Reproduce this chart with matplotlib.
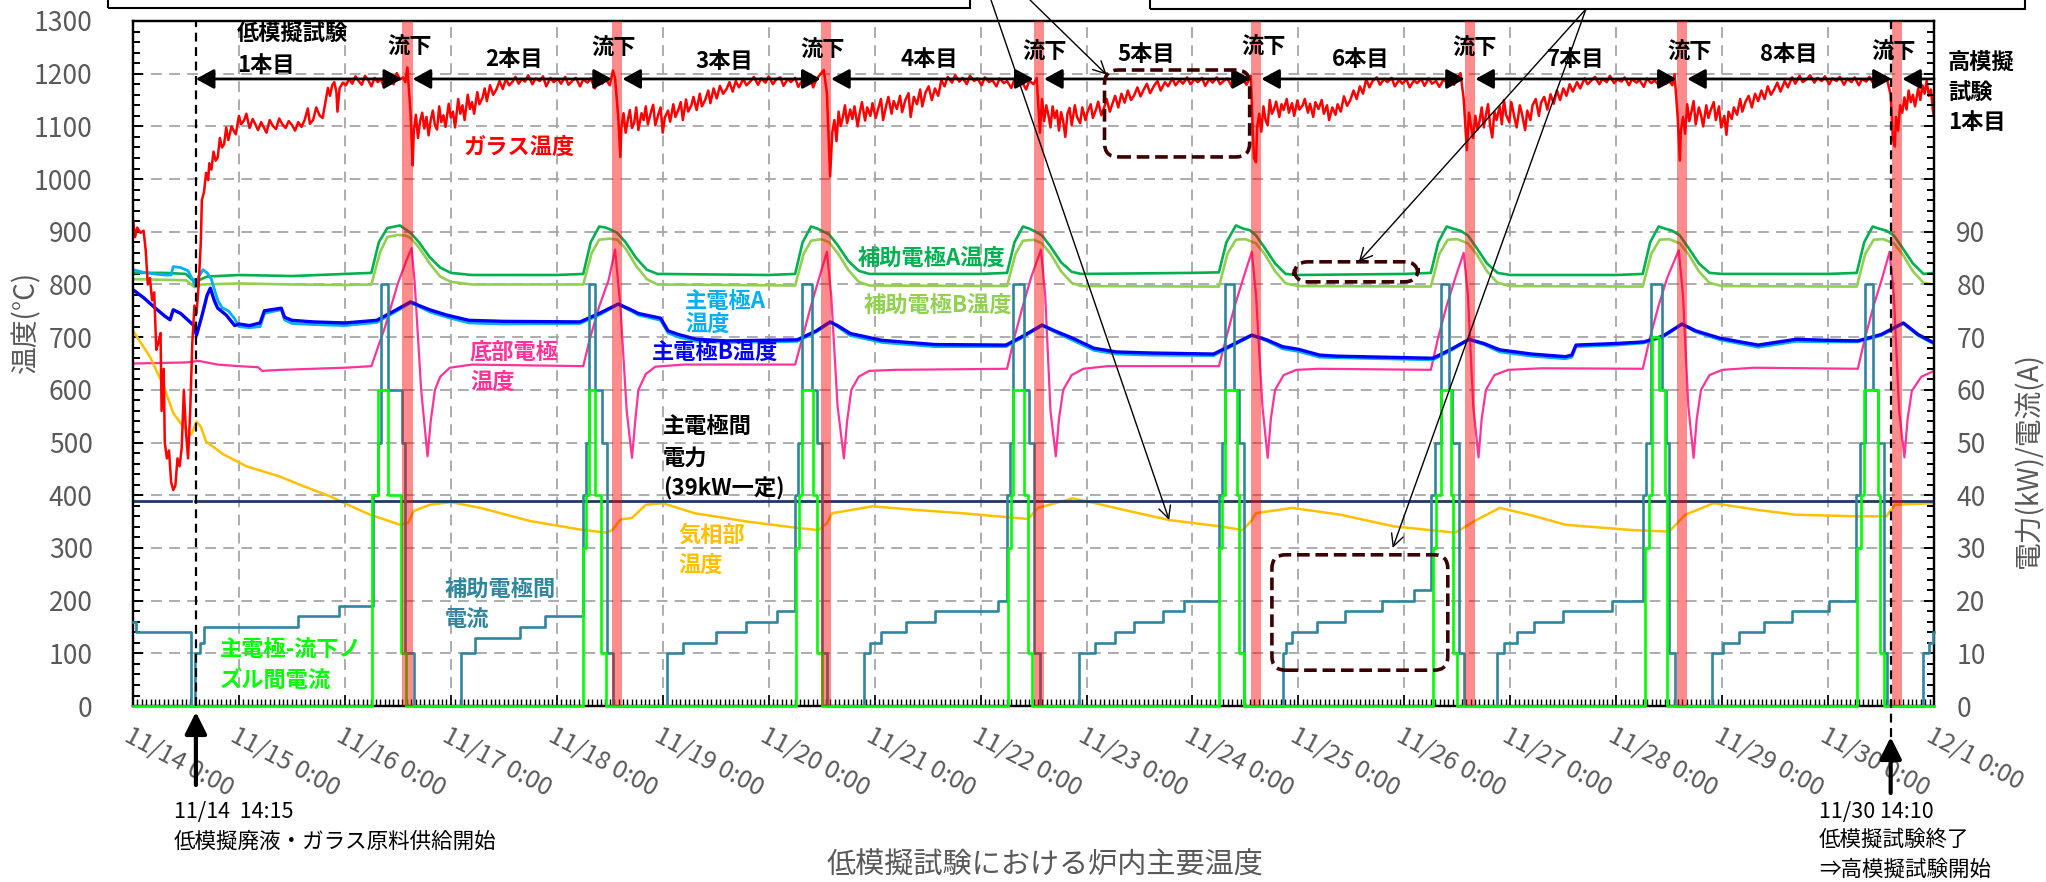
import numpy as np
import matplotlib
matplotlib.use('Agg')
import matplotlib.pyplot as plt
from matplotlib.ticker import MultipleLocator
from matplotlib.patches import FancyBboxPatch, Rectangle
from matplotlib import transforms

plt.rcParams['font.family'] = ['Noto Sans CJK JP', 'DejaVu Sans']

# time is in days from 11/14 0:00
DAY_LABELS = ['11/14 0:00', '11/15 0:00', '11/16 0:00', '11/17 0:00', '11/18 0:00',
              '11/19 0:00', '11/20 0:00', '11/21 0:00', '11/22 0:00', '11/23 0:00',
              '11/24 0:00', '11/25 0:00', '11/26 0:00', '11/27 0:00', '11/28 0:00',
              '11/29 0:00', '11/30 0:00', '12/1 0:00']

FEED_START = 14.25 / 24            # 11/14 14:15
FEED_END = 16 + (14 + 10 / 60) / 24  # 11/30 14:10
POURS = [2.59, 4.57, 6.54, 8.55, 10.60, 12.62, 14.62, 16.65]
BATCHES = ['2本目', '3本目', '4本目', '5本目', '6本目', '7本目', '8本目']

# ガラス温度 (°C)
glass = [
    (0.00, 922), (0.02, 890), (0.04, 908), (0.07, 898), (0.10, 902), (0.12, 865),
    (0.14, 800), (0.16, 812), (0.18, 770), (0.20, 785), (0.22, 676), (0.24, 690),
    (0.26, 708), (0.27, 560), (0.29, 640), (0.30, 500), (0.32, 470), (0.34, 485),
    (0.36, 425), (0.38, 410), (0.40, 418), (0.42, 470), (0.44, 455), (0.46, 490),
    (0.48, 600), (0.50, 520), (0.52, 470), (0.54, 560), (0.56, 690), (0.58, 760),
    (0.60, 745), (0.62, 800), (0.64, 880), (0.65, 960), (0.67, 975),
    # 1本目
    (0.69, 1012), (0.71, 998), (0.72, 1030), (0.74, 1018), (0.76, 1052), (0.78, 1035),
    (0.80, 1041), (0.82, 1078), (0.84, 1060), (0.86, 1066), (0.88, 1098), (0.90, 1074),
    (0.93, 1100), (0.95, 1092), (0.97, 1085), (1.00, 1120), (1.02, 1104), (1.05, 1112),
    (1.07, 1124), (1.10, 1097), (1.13, 1114), (1.15, 1106), (1.18, 1093), (1.21, 1108),
    (1.23, 1100), (1.26, 1088), (1.29, 1112), (1.32, 1101), (1.35, 1095), (1.38, 1115),
    (1.41, 1104), (1.44, 1097), (1.47, 1110), (1.50, 1103), (1.53, 1092), (1.56, 1108),
    (1.59, 1099), (1.62, 1112), (1.65, 1134), (1.67, 1105), (1.70, 1112), (1.73, 1136),
    (1.76, 1121), (1.79, 1116), (1.82, 1150), (1.84, 1173), (1.86, 1158), (1.88, 1178),
    (1.90, 1184), (1.92, 1165), (1.93, 1128), (1.95, 1172), (1.98, 1183), (2.01, 1178),
    (2.04, 1190), (2.07, 1181), (2.10, 1195), (2.13, 1186), (2.16, 1179), (2.19, 1196),
    (2.22, 1188), (2.25, 1176), (2.28, 1192), (2.31, 1184), (2.34, 1190), (2.37, 1174),
    (2.40, 1197), (2.43, 1185), (2.46, 1180), (2.49, 1201), (2.52, 1189), (2.55, 1193),
    (2.57, 1184), (2.59, 1212),
    # 2本目
    (2.62, 1125), (2.64, 1026), (2.65, 1090), (2.67, 1122), (2.69, 1078), (2.71, 1110),
    (2.73, 1126), (2.75, 1096), (2.77, 1118), (2.79, 1083), (2.81, 1112), (2.83, 1130),
    (2.85, 1102), (2.87, 1094), (2.89, 1138), (2.91, 1108), (2.93, 1121), (2.95, 1099),
    (2.98, 1143), (3.00, 1117), (3.02, 1128), (3.04, 1098), (3.07, 1152), (3.09, 1124),
    (3.11, 1140), (3.13, 1112), (3.16, 1160), (3.18, 1133), (3.20, 1146), (3.22, 1124),
    (3.25, 1165), (3.27, 1142), (3.30, 1155), (3.32, 1172), (3.34, 1148), (3.37, 1178),
    (3.40, 1160), (3.43, 1170), (3.46, 1186), (3.49, 1171), (3.52, 1190), (3.55, 1178),
    (3.58, 1184), (3.61, 1194), (3.64, 1181), (3.67, 1190), (3.70, 1185), (3.73, 1197),
    (3.77, 1180), (3.80, 1191), (3.84, 1186), (3.87, 1195), (3.90, 1176), (3.94, 1192),
    (3.97, 1184), (4.01, 1190), (4.04, 1181), (4.08, 1194), (4.11, 1179), (4.15, 1187),
    (4.18, 1192), (4.22, 1176), (4.25, 1189), (4.29, 1183), (4.32, 1191), (4.36, 1172),
    (4.39, 1187), (4.43, 1181), (4.46, 1190), (4.50, 1178), (4.53, 1206), (4.55, 1192),
    # 3本目
    (4.58, 1118), (4.60, 1042), (4.61, 1098), (4.63, 1125), (4.65, 1088), (4.67, 1112),
    (4.69, 1131), (4.71, 1097), (4.73, 1106), (4.75, 1136), (4.77, 1093), (4.80, 1125),
    (4.82, 1112), (4.84, 1138), (4.86, 1104), (4.89, 1128), (4.91, 1141), (4.93, 1102),
    (4.96, 1124), (4.98, 1136), (5.00, 1088), (5.02, 1117), (5.05, 1130), (5.07, 1109),
    (5.10, 1142), (5.12, 1118), (5.15, 1133), (5.17, 1146), (5.19, 1112), (5.22, 1151),
    (5.24, 1128), (5.27, 1140), (5.29, 1156), (5.32, 1131), (5.35, 1162), (5.37, 1138),
    (5.40, 1150), (5.43, 1168), (5.45, 1144), (5.48, 1172), (5.51, 1153), (5.54, 1177),
    (5.57, 1162), (5.60, 1170), (5.63, 1184), (5.66, 1166), (5.69, 1186), (5.72, 1174),
    (5.76, 1190), (5.79, 1178), (5.83, 1186), (5.86, 1194), (5.90, 1179), (5.93, 1191),
    (5.97, 1183), (6.00, 1195), (6.04, 1180), (6.07, 1189), (6.11, 1193), (6.14, 1177),
    (6.18, 1190), (6.21, 1184), (6.25, 1192), (6.28, 1175), (6.32, 1188), (6.35, 1181),
    (6.39, 1193), (6.42, 1174), (6.45, 1189), (6.48, 1197), (6.52, 1207),
    # 4本目
    (6.55, 1162), (6.58, 1005), (6.60, 1088), (6.62, 1112), (6.64, 1072), (6.66, 1128),
    (6.68, 1101), (6.70, 1117), (6.72, 1140), (6.74, 1106), (6.77, 1132), (6.79, 1114),
    (6.81, 1138), (6.84, 1100), (6.86, 1126), (6.88, 1146), (6.91, 1111), (6.93, 1136),
    (6.96, 1120), (6.98, 1144), (7.01, 1116), (7.03, 1131), (7.06, 1152), (7.08, 1112),
    (7.11, 1140), (7.13, 1156), (7.16, 1124), (7.18, 1148), (7.21, 1133), (7.24, 1158),
    (7.26, 1127), (7.29, 1150), (7.32, 1163), (7.34, 1118), (7.37, 1156), (7.40, 1142),
    (7.43, 1170), (7.45, 1138), (7.48, 1164), (7.51, 1176), (7.54, 1150), (7.57, 1172),
    (7.60, 1158), (7.63, 1188), (7.66, 1176), (7.69, 1194), (7.73, 1183), (7.76, 1197),
    (7.80, 1185), (7.83, 1192), (7.87, 1180), (7.90, 1196), (7.94, 1186), (7.97, 1191),
    (8.01, 1178), (8.04, 1193), (8.08, 1184), (8.11, 1188), (8.15, 1176), (8.18, 1191),
    (8.22, 1182), (8.25, 1186), (8.29, 1173), (8.32, 1189), (8.36, 1180), (8.39, 1185),
    (8.43, 1170), (8.46, 1187), (8.50, 1180), (8.53, 1192),
    # 5本目
    (8.56, 1088), (8.58, 1152), (8.60, 1110), (8.62, 1140), (8.64, 1122), (8.66, 1098),
    (8.68, 1138), (8.70, 1116), (8.72, 1130), (8.74, 1092), (8.76, 1127), (8.78, 1110),
    (8.80, 1080), (8.82, 1124), (8.84, 1135), (8.86, 1102), (8.89, 1140), (8.91, 1118),
    (8.94, 1106), (8.96, 1136), (8.99, 1112), (9.01, 1128), (9.04, 1142), (9.06, 1116),
    (9.09, 1132), (9.11, 1147), (9.14, 1121), (9.17, 1138), (9.19, 1152), (9.22, 1128),
    (9.25, 1146), (9.27, 1158), (9.30, 1136), (9.33, 1162), (9.36, 1145), (9.39, 1168),
    (9.42, 1150), (9.45, 1159), (9.48, 1174), (9.51, 1157), (9.54, 1170), (9.57, 1181),
    (9.60, 1163), (9.64, 1178), (9.67, 1186), (9.70, 1168), (9.74, 1184), (9.77, 1176),
    (9.81, 1191), (9.84, 1178), (9.88, 1188), (9.91, 1181), (9.95, 1193), (9.98, 1180),
    (10.02, 1189), (10.05, 1184), (10.09, 1192), (10.12, 1177), (10.16, 1190), (10.19, 1183),
    (10.23, 1193), (10.26, 1180), (10.30, 1187), (10.33, 1191), (10.37, 1176), (10.40, 1188),
    (10.44, 1182), (10.47, 1191), (10.51, 1179), (10.55, 1196),
    # 6本目
    (10.58, 1040), (10.60, 1032), (10.61, 1098), (10.63, 1124), (10.65, 1090), (10.67, 1138),
    (10.69, 1112), (10.71, 1102), (10.73, 1150), (10.75, 1124), (10.77, 1133), (10.79, 1147),
    (10.82, 1118), (10.84, 1142), (10.86, 1131), (10.89, 1152), (10.91, 1126), (10.94, 1144),
    (10.96, 1120), (10.99, 1149), (11.01, 1132), (11.04, 1140), (11.06, 1152), (11.09, 1126),
    (11.11, 1143), (11.14, 1118), (11.16, 1146), (11.19, 1133), (11.22, 1150), (11.24, 1124),
    (11.27, 1140), (11.29, 1112), (11.32, 1136), (11.35, 1122), (11.37, 1142), (11.40, 1128),
    (11.43, 1157), (11.46, 1139), (11.49, 1150), (11.52, 1168), (11.55, 1152), (11.58, 1176),
    (11.61, 1162), (11.64, 1190), (11.67, 1174), (11.70, 1186), (11.74, 1193), (11.77, 1179),
    (11.81, 1190), (11.84, 1184), (11.88, 1192), (11.91, 1176), (11.95, 1188), (11.98, 1181),
    (12.02, 1189), (12.05, 1174), (12.09, 1187), (12.12, 1182), (12.16, 1190), (12.19, 1177),
    (12.23, 1191), (12.26, 1181), (12.30, 1186), (12.33, 1175), (12.37, 1189), (12.40, 1183),
    (12.44, 1191), (12.47, 1179), (12.50, 1192), (12.53, 1201), (12.56, 1152),
    # 7本目
    (12.59, 1055), (12.61, 1126), (12.63, 1100), (12.65, 1078), (12.67, 1120), (12.69, 1094),
    (12.71, 1110), (12.73, 1136), (12.75, 1098), (12.77, 1122), (12.79, 1142), (12.81, 1101),
    (12.83, 1079), (12.85, 1128), (12.87, 1112), (12.90, 1138), (12.92, 1104), (12.94, 1150),
    (12.96, 1122), (12.99, 1108), (13.01, 1146), (13.04, 1116), (13.06, 1098), (13.09, 1140),
    (13.11, 1124), (13.14, 1093), (13.16, 1130), (13.19, 1112), (13.21, 1140), (13.24, 1152),
    (13.27, 1120), (13.29, 1145), (13.32, 1156), (13.35, 1132), (13.38, 1161), (13.41, 1143),
    (13.44, 1168), (13.47, 1150), (13.50, 1172), (13.53, 1158), (13.56, 1180), (13.59, 1166),
    (13.63, 1184), (13.66, 1172), (13.70, 1191), (13.73, 1180), (13.77, 1188), (13.80, 1194),
    (13.84, 1180), (13.87, 1190), (13.91, 1184), (13.94, 1196), (13.98, 1182), (14.01, 1189),
    (14.05, 1185), (14.08, 1193), (14.12, 1178), (14.15, 1190), (14.19, 1183), (14.22, 1188),
    (14.26, 1175), (14.29, 1191), (14.33, 1182), (14.36, 1187), (14.40, 1179), (14.43, 1193),
    (14.47, 1181), (14.50, 1186), (14.53, 1178), (14.55, 1199),
    # 8本目
    (14.58, 1118), (14.60, 1035), (14.61, 1092), (14.63, 1118), (14.65, 1086), (14.67, 1142),
    (14.69, 1110), (14.71, 1128), (14.73, 1148), (14.75, 1104), (14.78, 1136), (14.80, 1122),
    (14.82, 1100), (14.85, 1140), (14.87, 1116), (14.89, 1130), (14.92, 1146), (14.94, 1112),
    (14.97, 1138), (14.99, 1098), (15.02, 1120), (15.04, 1084), (15.06, 1128), (15.09, 1114),
    (15.11, 1136), (15.14, 1122), (15.17, 1152), (15.19, 1128), (15.22, 1147), (15.25, 1158),
    (15.28, 1136), (15.31, 1162), (15.34, 1148), (15.37, 1168), (15.40, 1152), (15.43, 1176),
    (15.46, 1160), (15.49, 1170), (15.52, 1183), (15.55, 1166), (15.59, 1186), (15.62, 1174),
    (15.66, 1193), (15.69, 1181), (15.73, 1196), (15.76, 1184), (15.80, 1190), (15.83, 1197),
    (15.87, 1183), (15.90, 1192), (15.94, 1186), (15.97, 1195), (16.01, 1180), (16.04, 1191),
    (16.08, 1186), (16.11, 1194), (16.15, 1179), (16.18, 1190), (16.22, 1184), (16.25, 1193),
    (16.29, 1178), (16.32, 1190), (16.36, 1185), (16.39, 1194), (16.43, 1180), (16.46, 1189),
    (16.50, 1183), (16.53, 1196), (16.56, 1186),
    # 高模擬 1本目
    (16.59, 1160), (16.61, 1080), (16.63, 1062), (16.64, 1118), (16.66, 1092), (16.68, 1140),
    (16.70, 1126), (16.72, 1155), (16.74, 1132), (16.76, 1168), (16.78, 1146), (16.80, 1160),
    (16.82, 1138), (16.85, 1172), (16.87, 1150), (16.89, 1178), (16.91, 1162), (16.93, 1186),
    (16.95, 1158), (16.97, 1170), (16.99, 1128), (17.00, 1118),
]

# 補助電極A温度 / 補助電極B温度 (°C)
aux_a = [
    (0.00, 822), (0.30, 822), (0.50, 820), (0.55, 810), (0.62, 808), (0.70, 815), (1.00, 818),
    (1.50, 816), (2.00, 820), (2.25, 822), (2.32, 880), (2.40, 907), (2.47, 910), (2.52, 912),
    (2.57, 905), (2.62, 898), (2.70, 880), (2.80, 852), (2.90, 832), (3.00, 822), (3.20, 818),
    (4.00, 818), (4.25, 820), (4.32, 880), (4.40, 910), (4.46, 908), (4.52, 903), (4.57, 898),
    (4.65, 880), (4.75, 850), (4.85, 828), (4.95, 820), (6.00, 818), (6.25, 820), (6.32, 880),
    (6.40, 910), (6.46, 906), (6.52, 900), (6.57, 895), (6.65, 875), (6.75, 845), (6.85, 826),
    (6.95, 820), (8.00, 820), (8.25, 822), (8.32, 880), (8.40, 910), (8.46, 906), (8.52, 900),
    (8.58, 893), (8.66, 872), (8.76, 842), (8.86, 824), (8.95, 820), (10.00, 822), (10.25, 823),
    (10.32, 880), (10.41, 912), (10.48, 906), (10.54, 903), (10.60, 893), (10.68, 870),
    (10.78, 840), (10.88, 820), (11.00, 818), (12.00, 820), (12.25, 822), (12.32, 880),
    (12.40, 910), (12.46, 906), (12.53, 902), (12.60, 893), (12.68, 870), (12.78, 840),
    (12.88, 822), (13.00, 818), (14.00, 818), (14.25, 820), (14.32, 880), (14.40, 910),
    (14.46, 906), (14.53, 902), (14.60, 893), (14.68, 870), (14.78, 840), (14.88, 822),
    (15.00, 820), (16.00, 820), (16.27, 822), (16.34, 880), (16.42, 910), (16.48, 906),
    (16.55, 902), (16.62, 893), (16.70, 870), (16.80, 840), (16.90, 820), (17.00, 822),
]
aux_b = [
    (0.00, 810), (0.50, 808), (0.58, 795), (0.65, 800), (1.00, 802), (1.50, 800), (2.00, 799),
    (2.25, 800), (2.33, 860), (2.40, 890), (2.50, 894), (2.57, 893), (2.62, 888), (2.70, 870),
    (2.80, 840), (2.90, 815), (3.00, 805), (3.20, 800), (4.25, 800), (4.33, 860), (4.40, 885),
    (4.50, 887), (4.57, 885), (4.65, 868), (4.75, 835), (4.85, 810), (4.95, 800), (6.25, 798),
    (6.33, 858), (6.40, 883), (6.50, 886), (6.57, 880), (6.65, 860), (6.75, 828), (6.85, 805),
    (6.95, 798), (8.25, 797), (8.33, 858), (8.40, 883), (8.50, 885), (8.58, 878), (8.66, 858),
    (8.76, 825), (8.86, 803), (8.95, 797), (10.25, 796), (10.33, 858), (10.41, 885),
    (10.50, 886), (10.60, 878), (10.68, 858), (10.78, 825), (10.88, 802), (11.00, 797),
    (12.25, 796), (12.33, 858), (12.41, 885), (12.50, 886), (12.60, 878), (12.68, 858),
    (12.78, 825), (12.88, 803), (13.00, 797), (14.25, 796), (14.33, 858), (14.41, 885),
    (14.50, 886), (14.60, 878), (14.68, 858), (14.78, 825), (14.88, 803), (15.00, 797),
    (16.27, 796), (16.35, 858), (16.43, 885), (16.52, 886), (16.62, 878), (16.70, 858),
    (16.80, 825), (16.90, 803), (17.00, 800),
]

# 主電極A温度 / 主電極B温度 (°C)
main_a = [
    (0.00, 828), (0.10, 823), (0.20, 820), (0.30, 818), (0.36, 818), (0.38, 834), (0.45, 832),
    (0.52, 826), (0.56, 810), (0.59, 796), (0.62, 815), (0.66, 828), (0.70, 822), (0.74, 810),
    (0.80, 770), (0.84, 756), (0.90, 750), (0.96, 735), (1.00, 720), (1.10, 718), (1.20, 720),
    (1.24, 745), (1.30, 748), (1.40, 752), (1.43, 733), (1.50, 726), (1.70, 724), (2.00, 722),
    (2.30, 728), (2.45, 745), (2.62, 765), (2.70, 758), (2.80, 748), (2.96, 738), (3.17, 727),
    (3.50, 725), (4.22, 726), (4.40, 742), (4.58, 762), (4.70, 750), (4.77, 742), (4.98, 732),
    (5.05, 708), (5.15, 700), (5.32, 692), (5.60, 690), (6.27, 692), (6.45, 710), (6.58, 728),
    (6.65, 720), (6.77, 703), (7.07, 690), (7.57, 682), (8.24, 682), (8.40, 700), (8.58, 722),
    (8.70, 710), (8.87, 694), (9.07, 675), (9.28, 668), (9.60, 666), (10.20, 665), (10.40, 686),
    (10.56, 703), (10.70, 693), (10.85, 678), (11.00, 673), (11.20, 662), (11.36, 661),
    (12.27, 657), (12.45, 676), (12.61, 695), (12.75, 686), (12.90, 672), (13.20, 664),
    (13.52, 659), (13.58, 662), (13.62, 682), (14.00, 685), (14.26, 689), (14.44, 700),
    (14.62, 724), (14.75, 710), (14.98, 695), (15.34, 681), (15.50, 686), (15.70, 692),
    (16.00, 691), (16.28, 691), (16.50, 703), (16.71, 726), (16.85, 703), (17.00, 687),
]
main_b = [
    (0.00, 790), (0.10, 775), (0.20, 757), (0.30, 740), (0.35, 733), (0.38, 752), (0.45, 745),
    (0.57, 723), (0.60, 704), (0.65, 740), (0.70, 780), (0.73, 793), (0.77, 768), (0.80, 755),
    (0.88, 742), (0.96, 722), (1.00, 725), (1.10, 722), (1.20, 727), (1.24, 750), (1.30, 752),
    (1.40, 755), (1.43, 738), (1.50, 732), (1.70, 729), (2.00, 727), (2.30, 732), (2.45, 748),
    (2.62, 767), (2.70, 760), (2.80, 752), (2.96, 742), (3.17, 732), (3.50, 730), (4.22, 729),
    (4.40, 745), (4.58, 763), (4.70, 752), (4.77, 745), (4.98, 736), (5.05, 712), (5.15, 705),
    (5.32, 696), (5.60, 693), (6.27, 695), (6.45, 712), (6.58, 729), (6.65, 722), (6.77, 707),
    (7.07, 694), (7.57, 686), (8.24, 685), (8.40, 702), (8.58, 723), (8.70, 712), (8.87, 698),
    (9.07, 679), (9.28, 672), (9.60, 670), (10.20, 668), (10.40, 688), (10.56, 704),
    (10.70, 695), (10.85, 682), (11.00, 677), (11.20, 666), (11.36, 664), (12.27, 660),
    (12.45, 678), (12.61, 696), (12.75, 688), (12.90, 676), (13.20, 668), (13.52, 663),
    (13.58, 666), (13.62, 685), (14.00, 688), (14.26, 691), (14.44, 702), (14.62, 725),
    (14.75, 712), (14.98, 698), (15.34, 685), (15.50, 690), (15.70, 696), (16.00, 694),
    (16.28, 693), (16.50, 705), (16.71, 727), (16.85, 705), (17.00, 689),
]

# 底部電極温度 (°C)
bottom = [
    (0.00, 650), (0.50, 652), (0.62, 655), (0.80, 648), (1.00, 645), (1.18, 643), (1.22, 636),
    (1.40, 638), (2.00, 642), (2.25, 645), (2.38, 720), (2.50, 802), (2.58, 845), (2.63, 869),
    (2.66, 800), (2.72, 600), (2.78, 474), (2.81, 540), (2.85, 600), (2.90, 625), (2.99, 642),
    (3.20, 648), (4.25, 645), (4.31, 695), (4.40, 758), (4.49, 809), (4.55, 866), (4.60, 760),
    (4.66, 560), (4.71, 471), (4.74, 540), (4.77, 600), (4.84, 630), (4.93, 644), (5.20, 648),
    (6.25, 648), (6.32, 700), (6.40, 760), (6.48, 815), (6.55, 862), (6.59, 780), (6.65, 570),
    (6.71, 470), (6.74, 540), (6.78, 600), (6.85, 625), (6.95, 636), (7.20, 638), (8.25, 640),
    (8.32, 700), (8.40, 760), (8.48, 815), (8.57, 866), (8.61, 780), (8.66, 560), (8.71, 474),
    (8.74, 545), (8.78, 600), (8.86, 628), (8.97, 640), (9.20, 645), (10.25, 645), (10.32, 700),
    (10.40, 760), (10.48, 812), (10.56, 862), (10.60, 780), (10.66, 570), (10.71, 471),
    (10.74, 545), (10.78, 600), (10.86, 628), (10.98, 638), (11.20, 640), (12.25, 638),
    (12.32, 700), (12.40, 760), (12.48, 812), (12.56, 860), (12.60, 780), (12.65, 570),
    (12.70, 472), (12.73, 545), (12.77, 600), (12.85, 628), (12.98, 638), (13.30, 641),
    (14.25, 640), (14.32, 700), (14.40, 760), (14.48, 812), (14.59, 865), (14.63, 780),
    (14.68, 570), (14.73, 471), (14.76, 545), (14.80, 600), (14.88, 628), (15.00, 638),
    (15.30, 642), (16.28, 640), (16.35, 700), (16.43, 760), (16.51, 812), (16.58, 862),
    (16.62, 780), (16.67, 560), (16.72, 472), (16.75, 545), (16.79, 598), (16.88, 625),
    (17.00, 636),
]

# 気相部温度 (°C)
gas = [
    (0.00, 712), (0.16, 663), (0.29, 607), (0.38, 556), (0.47, 531), (0.55, 515), (0.60, 540),
    (0.64, 530), (0.69, 502), (0.85, 478), (1.07, 455), (1.38, 436), (1.60, 418), (1.86, 398),
    (2.05, 380), (2.24, 363), (2.52, 344), (2.60, 348), (2.65, 370), (2.80, 382), (3.00, 387),
    (3.28, 376), (3.75, 351), (4.22, 335), (4.47, 329), (4.53, 335), (4.60, 354), (4.71, 357),
    (4.84, 382), (5.00, 385), (5.30, 366), (5.80, 350), (6.27, 338), (6.47, 334), (6.55, 347),
    (6.60, 366), (6.98, 379), (7.40, 372), (7.82, 366), (8.33, 357), (8.45, 355), (8.54, 376),
    (8.87, 394), (9.08, 385), (9.40, 370), (9.78, 353), (10.26, 341), (10.47, 334),
    (10.55, 350), (10.60, 366), (10.94, 376), (11.40, 363), (11.90, 341), (12.48, 329),
    (12.68, 353), (12.90, 376), (13.20, 362), (13.52, 344), (14.15, 334), (14.50, 331),
    (14.65, 363), (14.92, 385), (15.34, 372), (15.70, 363), (16.28, 360), (16.55, 360),
    (16.63, 382), (17.00, 385),
]

# 主電極間電力 (kW), power was off briefly at feed start
power_t = [0.00, 0.55, 0.57, 0.59, 17.00]
power_v = [39, 39, np.nan, 39, 39]

# 補助電極間電流 (A)
aux_current = [
    (0.00, 16), (0.03, 14), (0.55, 0), (0.585, 10), (0.63, 12), (0.67, 15), (1.56, 17), (1.94, 19),
    (2.27, 40), (2.31, 50), (2.34, 80), (2.41, 60), (2.54, 50), (2.57, 10), (2.65, 0),
    (3.10, 10), (3.23, 13), (3.65, 15), (3.89, 17),
    (4.25, 40), (4.28, 50), (4.30, 80), (4.36, 60), (4.43, 50), (4.47, 10), (4.53, 0),
    (5.04, 10), (5.19, 12), (5.50, 14), (5.79, 16), (6.08, 18),
    (6.25, 40), (6.28, 50), (6.31, 80), (6.41, 60), (6.46, 50), (6.50, 10), (6.55, 0),
    (6.90, 10), (6.96, 12), (7.06, 14), (7.30, 16), (7.57, 18), (8.16, 20),
    (8.25, 40), (8.28, 50), (8.31, 80), (8.41, 60), (8.46, 50), (8.50, 10), (8.56, 0),
    (8.93, 10), (9.08, 12), (9.27, 14), (9.45, 16), (9.72, 18), (9.92, 20),
    (10.25, 40), (10.28, 50), (10.31, 80), (10.39, 60), (10.44, 50), (10.49, 0),
    (10.85, 10), (10.88, 12), (10.94, 14), (11.18, 16), (11.44, 18), (11.79, 20), (12.09, 22),
    (12.25, 40), (12.29, 50), (12.35, 80), (12.42, 60), (12.45, 50), (12.52, 10), (12.56, 0),
    (12.87, 10), (12.94, 12), (13.06, 14), (13.22, 16), (13.50, 18), (13.96, 20),
    (14.25, 40), (14.28, 50), (14.33, 80), (14.43, 60), (14.47, 50), (14.50, 10), (14.55, 0),
    (14.90, 10), (15.01, 12), (15.16, 14), (15.39, 16), (15.66, 18), (16.01, 20),
    (16.26, 40), (16.30, 50), (16.35, 80), (16.42, 60), (16.47, 50), (16.53, 10), (16.56, 0),
    (16.90, 10), (16.95, 12), (16.99, 14), (17.00, 14),
]

# 主電極-流下ノズル間電流 (A)
nozzle_current = [
    (0.00, 0), (2.26, 40), (2.31, 60), (2.41, 40), (2.53, 10), (2.58, 0),
    (4.25, 30), (4.28, 40), (4.30, 60), (4.36, 40), (4.42, 10), (4.46, 0),
    (6.26, 30), (6.29, 40), (6.31, 60), (6.42, 40), (6.46, 10), (6.50, 0),
    (8.26, 30), (8.29, 40), (8.31, 60), (8.41, 40), (8.45, 10), (8.49, 0),
    (10.25, 30), (10.28, 40), (10.31, 60), (10.42, 40), (10.44, 10), (10.49, 0),
    (12.27, 30), (12.30, 40), (12.35, 60), (12.44, 40), (12.46, 10), (12.50, 0),
    (14.27, 30), (14.31, 40), (14.34, 70), (14.40, 60), (14.46, 40), (14.48, 0),
    (16.27, 30), (16.31, 40), (16.34, 60), (16.47, 40), (16.49, 10), (16.53, 0),
    (17.00, 0),
]

GRAY = '#595959'


def xy(pairs):
    t, v = zip(*pairs)
    return np.array(t), np.array(v, dtype=float)


fig = plt.figure(figsize=(20.46, 8.82), dpi=100)
ax = fig.add_axes([0.065, 0.1995, 0.8803, 0.7767])
ax2 = ax.twinx()

ax.set_xlim(0, 17)
ax.set_ylim(0, 1300)
ax2.set_ylim(0, 130)

# temperatures (left axis)
ax.plot(*xy(aux_a), color='#00b050', lw=1.9)
ax.plot(*xy(aux_b), color='#92d050', lw=1.9)
ax.plot(*xy(bottom), color='#ff3399', lw=1.6)
ax.plot(*xy(gas), color='#ffc000', lw=1.8)
ax.plot(*xy(main_a), color='#00b0f0', lw=2.0)
ax.plot(*xy(main_b), color='#0000ff', lw=2.4)
ax.plot(*xy(glass), color='#ff0000', lw=1.8)

# power / currents (right axis)
ax2.plot(power_t, power_v, color='#1f3864', lw=2.0, zorder=2)
t, v = xy(aux_current)
ax2.plot(t, v, drawstyle='steps-post', color='#31859c', lw=1.9, zorder=3, clip_on=False)
t, v = xy(nozzle_current)
ax2.plot(t, v, drawstyle='steps-post', color='#00ff00', lw=1.9, zorder=3, clip_on=False)

# pour periods
for p in POURS:
    ax2.axvspan(p - 0.05, p + 0.05, color='#ff0000', alpha=0.45, lw=0, zorder=5)

ax2.axvline(FEED_START, color='black', lw=1.6, ls=(0, (4, 2.5)), zorder=6)
ax2.axvline(FEED_END, ymin=-0.045, color='black', lw=1.6, ls=(0, (4, 2.5)),
            zorder=6, clip_on=False)

# axes styling
ax.grid(True, which='major', color='#a6a6a6', lw=1.3, ls=(0, (6, 4)))
ax.set_xticks(range(18))
ax.set_xticklabels(DAY_LABELS, rotation=-28, ha='left', va='top', rotation_mode='anchor')
ax.xaxis.set_minor_locator(MultipleLocator(1 / 24))
ax.set_yticks(range(0, 1301, 100))
ax.yaxis.set_minor_locator(MultipleLocator(20))
ax2.set_yticks(range(0, 131, 10))
ax2.set_yticklabels([str(v) if v <= 90 else '' for v in range(0, 131, 10)])
ax2.yaxis.set_minor_locator(MultipleLocator(2))

ax.tick_params(axis='x', which='major', direction='in', length=8, width=1.2,
               labelsize=18, labelcolor=GRAY, pad=12)
ax.tick_params(axis='x', which='minor', direction='in', length=5, width=1)
ax.tick_params(axis='y', which='both', direction='in', width=1.4, labelsize=19,
               labelcolor=GRAY, pad=29)
ax.tick_params(axis='y', which='major', length=7)
ax.tick_params(axis='y', which='minor', length=5)
ax2.tick_params(axis='y', which='both', direction='in', width=1.4, labelsize=19,
                labelcolor=GRAY, pad=16)
ax2.tick_params(axis='y', which='major', length=7)
ax2.tick_params(axis='y', which='minor', length=5)
for a in (ax, ax2):
    for s in a.spines.values():
        s.set_linewidth(1.6)
        s.set_color('black')

fig.text(26 / 2046, 1 - 322 / 882, '温度(°C)', rotation=90, ha='center', va='center',
         fontsize=20, color=GRAY)
fig.text(2029 / 2046, 1 - 460 / 882, '電力(kW)/電流(A)', rotation=90, ha='center',
         va='center', fontsize=20, color=GRAY)
fig.text(1045 / 2046, 1 - 866 / 882, '低模擬試験における炉内主要温度', ha='center',
         va='center', fontsize=21, color=GRAY)


def stack(x, y, lines, gap=30, **kw):
    for i, line in enumerate(lines):
        tr = transforms.offset_copy(ax.transData, fig=fig, y=-i * gap, units='dots')
        ax2.text(x, y, line, transform=tr, va='center', zorder=8, clip_on=False, **kw)


bold = dict(fontsize=16, fontweight='bold')

# batch arrows between pours
starts = [FEED_START] + [p + 0.05 for p in POURS[:-1]]
ends = [p - 0.05 for p in POURS]
for x0, x1 in zip(starts, ends):
    ax2.annotate('', xy=(x1, 1190), xytext=(x0, 1190), xycoords=ax.transData,
                 textcoords=ax.transData,
                 arrowprops=dict(arrowstyle='<|-|>,head_length=0.55,head_width=0.3',
                                 color='black', lw=2, mutation_scale=20,
                                 shrinkA=0, shrinkB=0), zorder=7)
ax2.annotate('', xy=(POURS[-1] + 0.05, 1190), xytext=(17, 1190), xycoords=ax.transData,
             textcoords=ax.transData,
             arrowprops=dict(arrowstyle='-|>,head_length=0.55,head_width=0.3',
                             color='black', lw=2, mutation_scale=20, shrinkA=0, shrinkB=0),
             zorder=7)

stack(0.98, 1277, ['低模擬試験', '1本目'], gap=32, ha='left', color='black', **bold)
for x, y in zip([2.61, 4.54, 6.51, 8.60, 10.67, 12.66, 14.69, 16.62],
                [1251, 1248, 1245, 1240, 1251, 1248, 1240, 1240]):
    stack(x, y, ['流下'], ha='center', color='black', **bold)
for name, x, y in zip(BATCHES, [3.6, 5.58, 7.52, 9.56, 11.59, 13.62, 15.63],
                      [1226, 1223, 1226, 1236, 1226, 1226, 1236]):
    stack(x, y, [name], ha='center', color='black', **bold)
stack(17.13, 1222, ['高模擬', '試験', '1本目'], ha='left', color='black', **bold)

# series labels
stack(3.65, 1061, ['ガラス温度'], ha='center', color='#ff0000', **bold)
stack(7.54, 850, ['補助電極A温度'], ha='center', color='#00b050', **bold)
stack(7.60, 761, ['補助電極B温度'], ha='center', color='#92d050', **bold)
stack(5.21, 767, ['主電極A', '温度'], gap=23, ha='left', color='#00b0f0', **bold)
stack(4.90, 672, ['主電極B温度'], ha='left', color='#0000ff', **bold)
stack(3.18, 672, ['底部電極', '温度'], ha='left', color='#ff3399', **bold)
stack(5.00, 530, ['主電極間', '電力', '(39kW一定)'], gap=31, ha='left', color='black', **bold)
stack(5.15, 324, ['気相部', '温度'], ha='left', color='#ffc000', **bold)
stack(2.94, 220, ['補助電極間', '電流'], ha='left', color='#31859c', **bold)
stack(0.82, 106, ['主電極-流下ノ', 'ズル間電流'], ha='left', color='#00ff00', **bold)

# dashed call-out frames
px_day = ax.get_position().width * fig.bbox.width / 17
px_deg = ax.get_position().height * fig.bbox.height / 1300
for x0, x1, y0, y1 in [(9.17, 10.54, 1042, 1207), (10.96, 12.13, 805, 843),
                       (10.75, 12.41, 68, 287)]:
    ax2.add_patch(FancyBboxPatch((x0, y0), x1 - x0, y1 - y0,
                                 boxstyle='round,pad=0,rounding_size=0.13',
                                 mutation_aspect=px_day / px_deg, transform=ax.transData,
                                 fill=False, ec='#3b0000', lw=2.6, ls=(0, (3.5, 1.6)),
                                 zorder=7, clip_on=False))

# comment boxes above the plot and their leader lines
fig.add_artist(Rectangle((108 / 2046, 1 - 8 / 882), 862 / 2046, 0.1,
                         transform=fig.transFigure, fill=False, ec='black', lw=1.5))
fig.add_artist(Rectangle((1150 / 2046, 1 - 9 / 882), 875 / 2046, 0.1,
                         transform=fig.transFigure, fill=False, ec='black', lw=1.5))
for tail, tip in [((991, 882), (9.78, 353)), ((1030, 882), (9.19, 1198)),
                  ((1586, 873), (11.57, 843)), ((1586, 873), (11.89, 300))]:
    ax2.annotate('', xy=tip, xycoords=ax.transData, xytext=tail,
                 textcoords='figure pixels',
                 arrowprops=dict(arrowstyle='->', color='black', lw=1.0,
                                 mutation_scale=22, shrinkA=0, shrinkB=0), zorder=9)

# feed start / end markers below the axis
for t, (y0, y1) in [(FEED_START, (97, 170)), (FEED_END, (89, 145))]:
    ax2.annotate('', xy=(t, y1), xytext=(t, y0), xycoords=('data', 'figure pixels'),
                 textcoords=('data', 'figure pixels'),
                 arrowprops=dict(arrowstyle='-|>,head_length=0.6,head_width=0.3',
                                 color='black', lw=3, mutation_scale=22,
                                 shrinkA=0, shrinkB=0))

for x, y, s in [(174, 812, '11/14  14:15'), (174, 842, '低模擬廃液・ガラス原料供給開始'),
                (1819, 812, '11/30 14:10'), (1819, 840, '低模擬試験終了'),
                (1819, 870, '⇒高模擬試験開始')]:
    fig.text(x / 2046, 1 - y / 882, s, ha='left', va='center', fontsize=15.5, color='black')

fig.savefig('out.png', dpi=100)
